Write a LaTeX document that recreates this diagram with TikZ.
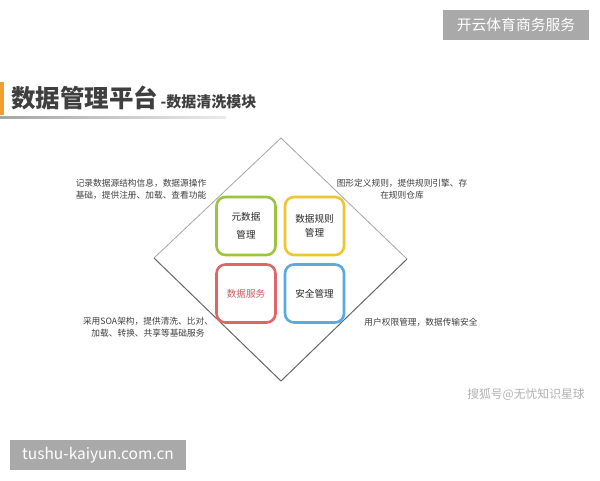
\documentclass[tikz,border=0pt]{standalone}
\usepackage{fontspec}
\newfontfamily\cjk{Noto Sans CJK SC}
\setmainfont{Noto Sans CJK SC}
\definecolor{boxgray}{HTML}{A9A9A9}
\definecolor{titlegray}{HTML}{3F3F3F}
\definecolor{cgreen}{HTML}{9CC43C}
\definecolor{cyellow}{HTML}{F0C630}
\definecolor{cred}{HTML}{E06468}
\definecolor{cblue}{HTML}{5AAAE0}
\definecolor{corange}{HTML}{F0A030}
\tikzset{
  tag/.style={fill=boxgray,text=white,inner sep=0pt,anchor=center},
  desc/.style={font=\fontsize{8.7}{12}\selectfont,text=black!75,align=center,inner sep=0pt},
  cell/.style={draw,line width=2.6pt,rounded corners=9pt,minimum width=59pt,minimum height=58pt,inner sep=0pt},
  celltext/.style={font=\fontsize{9.6}{18}\selectfont,text=black!85,align=center}
}
\begin{document}
\begin{tikzpicture}[x=1pt,y=-1pt]
\useasboundingbox[fill=white] (0,0) rectangle (600,480);
% tags
\node[tag,minimum width=146pt,minimum height=30pt,font=\fontsize{14.8}{16}\selectfont] (tagtr) at (516,25) {开云体育商务服务};
\node[tag,minimum width=176pt,minimum height=30pt,font=\fontsize{15.5}{16}\selectfont] (tagbl) at (98,455) {tushu-kaiyun.com.cn};
% title
\fill[corange] (0,82) rectangle (4,115);
\node[anchor=west,inner sep=0pt,font=\fontsize{24.5}{26}\selectfont\bfseries,text=titlegray] (title) at (11,98) {数据管理平台};
\node[anchor=base west,inner sep=0pt,xshift=2pt,font=\fontsize{15}{16}\selectfont\bfseries,text=titlegray] (subtitle) at (title.base east) {-数据清洗模块};
\shade[left color=black!35,right color=black!8] (0,116.5) rectangle (226,118);
% diamond
\coordinate (dt) at (281,138);
\coordinate (dr) at (407,259);
\coordinate (db) at (281,381);
\coordinate (dl) at (154,258);
\draw[black!35,line width=0.8pt] (dl) -- (dt) -- (dr);
\draw[black!60,line width=1pt] (dr) -- (db) -- (dl);
% cells
\node[cell,draw=cgreen] (c1) at (246,226) {};
\node[cell,draw=cyellow] (c2) at (314.5,226) {};
\node[cell,draw=cred] (c3) at (246,293.5) {};
\node[cell,draw=cblue] (c4) at (314.5,293.5) {};
\node[celltext] (t1) at (c1) {元数据\\管理};
\node[celltext,font=\fontsize{9.6}{14}\selectfont] (t2) at (c2) {数据规则\\管理};
\node[celltext,text=cred!90!black] (t3) at (c3) {数据服务};
\node[celltext] (t4) at (c4) {安全管理};
% descriptions
\node[desc] (d1) at (141,189) {记录数据源结构信息，数据源操作\\基础，提供注册、加载、查看功能};
\node[desc] (d2) at (402,189) {图形定义规则，提供规则引擎、存\\在规则仓库};
\node[desc] (d3) at (148,327) {采用SOA架构，提供清洗、比对、\\加载、转换、共享等基础服务};
\node[desc] (d4) at (421,322) {用户权限管理，数据传输安全};
% watermark
\node[inner sep=0pt,font=\fontsize{11.8}{12}\selectfont,text=black!30] (wm) at (526,395) {搜狐号@无忧知识星球};
\end{tikzpicture}
\end{document}
